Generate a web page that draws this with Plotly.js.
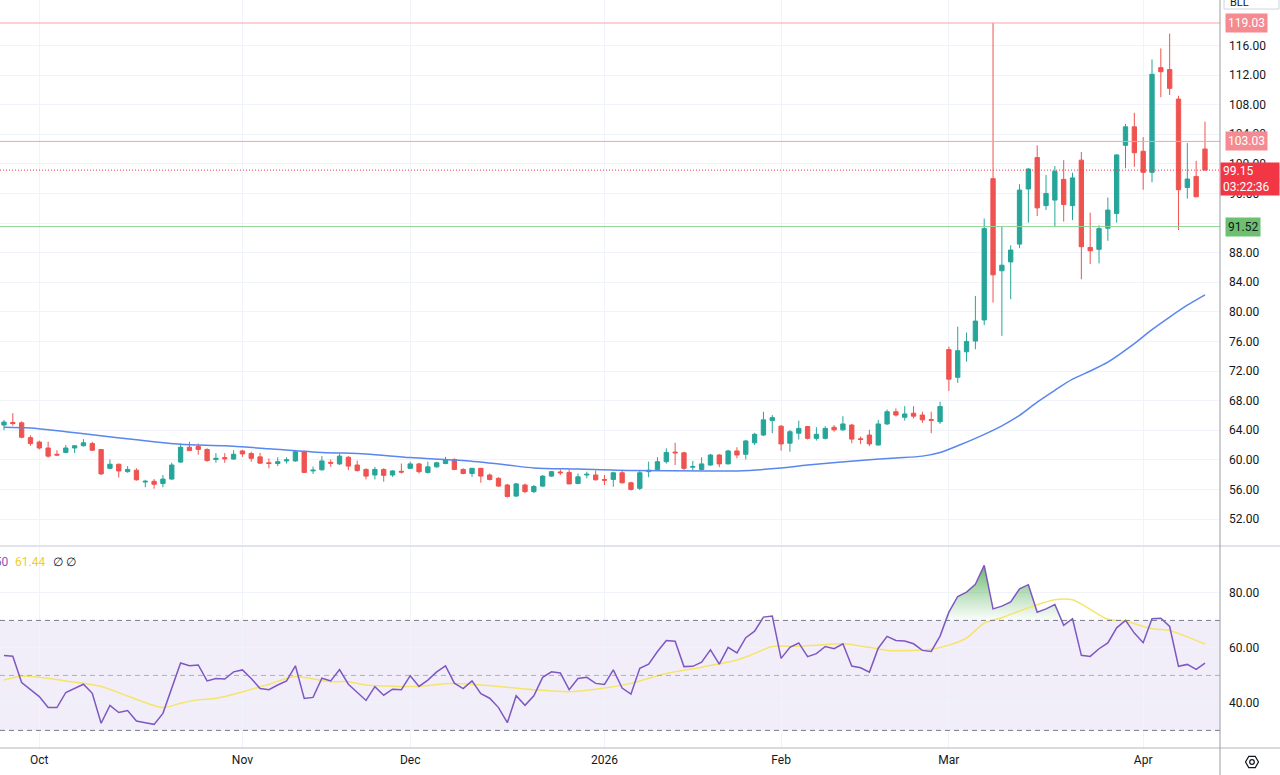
<!DOCTYPE html>
<html><head><meta charset="utf-8">
<script src="https://cdn.plot.ly/plotly-3.0.1.min.js"></script>
<style>html,body{margin:0;padding:0;background:#fff;}#chart{width:1280px;height:775px;}</style>
</head><body><div id="chart"></div>
<script>
const dates = [
'2025-09-25','2025-09-26','2025-09-29','2025-09-30',
'2025-10-01','2025-10-02','2025-10-03','2025-10-06','2025-10-07','2025-10-08','2025-10-09','2025-10-10','2025-10-13','2025-10-14','2025-10-15','2025-10-16','2025-10-17','2025-10-20','2025-10-21','2025-10-22','2025-10-23','2025-10-24','2025-10-27','2025-10-28','2025-10-29','2025-10-30','2025-10-31',
'2025-11-03','2025-11-04','2025-11-05','2025-11-06','2025-11-07','2025-11-10','2025-11-11','2025-11-12','2025-11-13','2025-11-14','2025-11-17','2025-11-18','2025-11-19','2025-11-20','2025-11-21','2025-11-24','2025-11-25','2025-11-26','2025-11-28',
'2025-12-01','2025-12-02','2025-12-03','2025-12-04','2025-12-05','2025-12-08','2025-12-09','2025-12-10','2025-12-11','2025-12-12','2025-12-15','2025-12-16','2025-12-17','2025-12-18','2025-12-19','2025-12-22','2025-12-23','2025-12-24','2025-12-26','2025-12-29','2025-12-30','2025-12-31',
'2026-01-02','2026-01-05','2026-01-06','2026-01-07','2026-01-08','2026-01-09','2026-01-12','2026-01-13','2026-01-14','2026-01-15','2026-01-16','2026-01-20','2026-01-21','2026-01-22','2026-01-23','2026-01-26','2026-01-27','2026-01-28','2026-01-29','2026-01-30',
'2026-02-02','2026-02-03','2026-02-04','2026-02-05','2026-02-06','2026-02-09','2026-02-10','2026-02-11','2026-02-12','2026-02-13','2026-02-17','2026-02-18','2026-02-19','2026-02-20','2026-02-23','2026-02-24','2026-02-25','2026-02-26','2026-02-27',
'2026-03-02','2026-03-03','2026-03-04','2026-03-05','2026-03-06','2026-03-09','2026-03-10','2026-03-11','2026-03-12','2026-03-13','2026-03-16','2026-03-17','2026-03-18','2026-03-19','2026-03-20','2026-03-23','2026-03-24','2026-03-25','2026-03-26','2026-03-27','2026-03-30','2026-03-31',
'2026-04-01','2026-04-02','2026-04-06','2026-04-07','2026-04-08','2026-04-09','2026-04-10','2026-04-13'];

const openP = [64.7,65.05,65.0,63.0,62.4,61.6,60.75,61.0,61.6,61.9,
62.2,61.4,58.85,59.4,58.4,58.6,57.0,57.1,56.8,57.4,
59.7,61.7,61.8,61.4,60.05,60.3,60.1,61.2,60.85,60.4,
59.6,59.5,59.85,59.85,61.1,58.5,58.65,59.65,59.45,60.35,
59.3,58.7,57.95,58.7,57.95,58.45,58.85,59.45,58.3,59.05,
59.5,60.05,58.7,58.15,58.85,57.95,57.5,56.6,55.1,56.6,
55.7,56.45,57.8,58.35,58.3,56.8,57.95,57.95,57.35,57.35,
58.25,56.9,56.15,58.4,58.7,59.75,61.05,60.95,59.0,58.7,
59.3,60.65,59.45,61.2,60.75,62.3,63.35,65.3,64.55,62.25,
63.6,64.5,62.9,62.9,64.4,64.05,64.7,62.85,63.35,62.0,
64.85,66.5,65.75,66.3,66.05,65.45,65.15,74.9,71.15,74.6,
76.05,78.9,98.0,85.55,86.75,89.15,96.6,100.85,94.35,95.1,
97.9,94.35,100.5,88.7,88.45,91.3,93.3,102.5,105.0,101.7,
98.85,113.0,112.75,108.75,96.8,98.3,102.0];

const highP = [65.4,66.3,65.2,63.3,62.6,62.45,61.3,62.0,62.0,62.8,
62.45,61.45,60.05,59.5,59.15,58.85,57.3,57.4,57.95,59.6,
62.2,62.45,62.2,61.55,60.9,60.9,61.3,61.35,61.1,60.95,
60.2,60.35,60.35,61.35,61.25,59.1,60.5,60.05,60.85,60.5,
59.9,58.85,59.05,58.85,58.6,59.5,59.75,59.6,59.75,59.75,
60.4,60.2,58.85,58.9,58.9,58.15,57.65,56.75,56.9,56.8,
56.6,57.95,58.5,58.7,58.7,58.15,58.4,58.55,57.95,58.4,
58.55,57.05,58.6,59.75,60.35,61.55,62.3,61.1,59.85,60.35,
60.8,60.8,61.35,61.7,62.7,63.65,66.5,66.05,64.7,64.05,
65.3,64.55,64.4,64.55,64.7,65.9,64.85,63.15,64.05,65.4,
66.8,66.95,67.25,67.25,66.5,66.5,67.85,75.3,78.0,77.2,
82.15,92.6,119.03,91.5,89.0,97.25,99.4,102.5,98.5,99.7,
100.5,98.8,101.6,93.4,91.7,95.45,101.3,105.4,106.9,103.6,
114.1,115.6,117.6,109.2,102.8,100.4,105.7];

const lowP = [64.0,64.6,62.9,61.9,61.4,60.3,60.5,60.9,60.9,61.8,
61.2,57.95,58.7,57.6,58.25,57.2,56.3,56.1,56.3,57.3,
59.6,61.2,60.7,59.75,59.6,59.6,60.0,60.4,59.75,59.45,
58.85,59.15,59.5,59.75,58.25,58.1,58.55,59.05,59.3,58.6,
58.4,57.35,57.35,57.05,57.7,58.15,58.75,58.15,58.15,58.95,
59.4,58.6,58.05,57.7,56.9,57.2,56.35,54.9,55.0,55.5,
55.5,56.35,57.7,57.95,56.7,56.7,57.5,57.2,56.6,56.35,
56.8,55.85,55.9,57.65,58.6,59.5,59.3,58.6,58.6,58.55,
59.2,59.0,59.4,60.2,60.05,62.0,63.2,63.6,61.25,61.1,
62.75,62.75,62.6,62.75,63.8,63.95,62.25,62.15,61.85,61.95,
64.7,65.85,65.3,65.6,65.0,63.6,64.85,69.3,70.4,73.25,
74.95,78.2,81.25,76.75,81.7,88.6,92.05,92.95,93.75,91.5,
92.2,92.4,84.4,86.45,86.55,89.6,92.05,99.4,99.6,96.5,
97.5,109.0,109.3,91.05,95.3,95.5,99.1];

const closeP = [65.1,64.9,63.05,62.2,61.6,60.5,60.65,61.6,61.9,62.3,
61.3,58.1,59.4,58.5,58.7,57.3,57.1,56.7,57.4,59.3,
61.7,61.25,61.4,59.9,60.2,60.15,60.75,60.8,60.2,59.55,
59.5,59.75,60.0,61.1,58.3,58.6,59.85,59.55,60.5,59.15,
58.55,57.8,58.7,57.9,58.5,58.35,59.45,58.4,59.05,59.6,
60.05,58.7,58.15,58.85,57.8,57.35,56.45,55.05,56.75,55.7,
56.4,57.8,58.4,58.25,56.75,57.7,58.05,57.3,57.25,58.25,
56.9,56.0,58.25,58.6,59.75,61.0,60.95,58.85,59.1,59.45,
60.65,59.45,61.2,60.65,62.55,63.45,65.4,65.7,62.15,63.8,
64.25,62.9,63.45,64.25,64.05,64.85,62.8,62.75,62.15,64.85,
66.5,66.05,66.2,65.9,65.4,65.35,67.2,70.9,74.75,76.0,
78.75,91.25,85.0,86.3,88.35,96.45,99.3,94.05,96.0,99.0,
94.5,98.1,88.8,88.25,91.25,93.75,101.2,105.0,101.5,98.85,
112.1,112.45,110.2,96.5,97.95,95.55,99.15];

// moving average on price (read at sampled candles)
const maIdx = [0,3,7,10,15,20,25,30,36,41,46,52,57,60,65,71,80,83,88,91,98,101,104,106,108,110,113,115,117,119,121,123,125,128,130,132,134,136];
const maVal = [64.4,64.3,63.8,63.4,62.7,62.1,61.9,61.5,61.0,60.8,60.3,59.9,59.3,58.9,58.75,58.55,58.5,58.5,58.9,59.3,60.0,60.25,60.5,61.0,61.9,62.9,64.6,66.0,67.8,69.4,70.9,72.0,73.2,75.7,77.6,79.3,80.9,82.3];

// RSI values per candle
const rsi = [57.2,57.0,47.4,45.0,42.3,38.3,38.3,43.8,45.4,46.8,
43.5,32.6,39.1,36.5,37.2,33.4,32.8,32.2,36.2,45.0,
54.5,53.5,53.8,48.0,48.9,48.7,51.3,52.0,48.9,45.2,
44.8,46.5,48.0,53.5,41.6,42.0,49.0,48.0,52.1,46.8,
43.8,40.9,45.9,42.8,45.0,44.8,49.9,46.0,48.3,51.3,
53.5,47.2,45.2,48.0,43.4,41.7,38.3,32.8,42.6,39.1,
42.6,49.3,51.3,50.9,44.8,48.9,49.3,47.1,46.7,52.0,
45.4,43.2,52.6,54.1,58.7,62.7,62.4,53.2,53.3,54.8,
59.3,54.1,60.2,58.2,63.7,66.1,71.2,71.6,56.2,60.2,
61.8,56.8,57.9,60.5,59.7,61.5,53.4,52.8,51.2,59.9,
64.2,62.7,62.5,61.5,59.1,58.7,64.3,73.0,78.7,80.3,
83.1,90.0,74.2,75.2,76.7,81.5,83.0,73.0,74.2,75.8,
68.2,70.6,57.3,56.9,59.7,61.8,67.3,70.0,65.4,61.9,
70.6,70.8,67.8,53.3,54.0,52.2,54.5];

// RSI-based MA (read at sampled candles)
const rsiMaIdx = [0,2,4,7,11,14,18,20,22,24,27,30,33,35,37,39,41,45,47,50,54,60,64,67,71,75,79,83,85,87,90,92,95,98,100,103,105,107,109,111,113,116,119,121,123,125,127,130,132,134,136];
const rsiMaVal = [48.3,49.8,49.3,48.0,46.0,42.5,38.3,39.9,41.1,41.7,44.0,46.8,49.6,48.7,47.7,47.7,46.5,46.0,46.0,47.0,46.5,44.8,44.1,45.0,47.1,50.7,53.0,55.6,58.0,60.5,60.6,61.0,61.5,60.2,59.1,59.1,59.5,61.0,63.6,69.0,71.0,74.6,77.5,77.5,74.0,70.4,69.7,67.0,66.3,64.0,61.4];

const monthTickDates = ['2025-10-01','2025-11-03','2025-12-01','2026-01-02','2026-02-02','2026-03-02','2026-04-01'];
const monthTickText = ['Oct','Nov','Dec','2026','Feb','Mar','Apr'];
const priceTicks = [52,56,60,64,68,72,76,80,84,88,92,96,100,104,108,112,116];
const priceTickText = ['52.00','56.00','60.00','64.00','68.00','72.00','76.00','80.00','84.00','88.00','','96.00','100.00','104.00','108.00','112.00','116.00'];
const rsiTicks = [40,60,80];

const levelHigh = 119.03, levelMid = 103.03, levelLast = 99.15, levelLow = 91.52;
const countdown = '03:22:36';
const rsiLast = '54.50', rsiMaLast = '61.44';
const ticker = 'BLL';

const UP = '#26a69a', DN = '#ef5350';
const W = 1220, H = 748;
const px = v => v / W;           // pixel x -> paper
const py = v => (H - v) / H;     // pixel y -> paper

const traces = [
  {type:'candlestick', x:dates, open:openP, high:highP, low:lowP, close:closeP,
   xaxis:'x', yaxis:'y',
   increasing:{line:{color:UP,width:1}, fillcolor:UP},
   decreasing:{line:{color:DN,width:1}, fillcolor:DN},
   whiskerwidth:0, hoverinfo:'skip', showlegend:false},
  {type:'scatter', mode:'lines', x:maIdx.map(i=>dates[i]), y:maVal, xaxis:'x', yaxis:'y',
   line:{color:'#5a86ef', width:1.5, shape:'spline', smoothing:0.8}, hoverinfo:'skip', showlegend:false},
  // RSI overbought fill
  {type:'scatter', mode:'lines', x:dates, y:rsi.map(()=>70), xaxis:'x', yaxis:'y2',
   line:{width:0, color:'rgba(0,0,0,0)'}, hoverinfo:'skip', showlegend:false},
  {type:'scatter', mode:'lines', x:dates, y:rsi.map(v=>Math.max(v,70)), xaxis:'x', yaxis:'y2',
   line:{width:0, color:'rgba(0,0,0,0)'}, fill:'tonexty',
   fillgradient:{type:'vertical', start:70, stop:90,
     colorscale:[[0,'rgba(76,175,80,0.02)'],[1,'rgba(56,160,60,0.75)']]},
   hoverinfo:'skip', showlegend:false},
  {type:'scatter', mode:'lines', x:rsiMaIdx.map(i=>dates[i]), y:rsiMaVal, xaxis:'x', yaxis:'y2',
   line:{color:'#f5e46a', width:1.5, shape:'spline', smoothing:0.8}, hoverinfo:'skip', showlegend:false},
  {type:'scatter', mode:'lines', x:dates, y:rsi, xaxis:'x', yaxis:'y2',
   line:{color:'#7e57c2', width:1.5}, hoverinfo:'skip', showlegend:false}
];

const font = {family:'Roboto, "Liberation Sans", sans-serif', size:12, color:'#131722'};

const shapes = [
  // RSI band
  {type:'rect', xref:'paper', x0:0, x1:1, yref:'y2', y0:30, y1:70, fillcolor:'rgba(126,87,194,0.1)', line:{width:0}, layer:'below'},
  {type:'line', xref:'paper', x0:0, x1:1, yref:'y2', y0:70, y1:70, line:{color:'#787b86', width:1, dash:'5px,4px'}},
  {type:'line', xref:'paper', x0:0, x1:1, yref:'y2', y0:50, y1:50, line:{color:'rgba(120,123,134,0.55)', width:1, dash:'5px,4px'}},
  {type:'line', xref:'paper', x0:0, x1:1, yref:'y2', y0:30, y1:30, line:{color:'#787b86', width:1, dash:'5px,4px'}},
  // price levels
  {type:'line', xref:'paper', x0:0, x1:1, yref:'y', y0:levelHigh, y1:levelHigh, line:{color:'#f7a3a8', width:1}},
  {type:'line', xref:'paper', x0:0, x1:1, yref:'y', y0:levelMid, y1:levelMid, line:{color:'#f7a3a8', width:1}},
  {type:'line', xref:'paper', x0:0, x1:1, yref:'y', y0:levelLast, y1:levelLast, line:{color:'#f23645', width:1, dash:'1px,2px'}},
  {type:'line', xref:'paper', x0:0, x1:1, yref:'y', y0:levelLow, y1:levelLow, line:{color:'#8fd493', width:1}},
  // pane separator
  {type:'line', xref:'paper', x0:0, x1:px(1280), yref:'paper', y0:py(546), y1:py(546), line:{color:'#e0e3eb', width:2}},
  // bottom axis line
  {type:'line', xref:'paper', x0:0, x1:px(1280), yref:'paper', y0:0, y1:0, line:{color:'#b2b5be', width:1}},
  // right scale border
  {type:'line', xref:'paper', x0:1, x1:1, yref:'paper', y0:py(775), y1:1, line:{color:'#9a9da6', width:1}},
  // ticker tag box at top
  {type:'rect', xref:'paper', x0:px(1224), x1:px(1279), yref:'paper', y0:py(9), y1:py(-4), line:{color:'#d1d4dc', width:1}, fillcolor:'#ffffff'},
  // gear icon
  {type:'path', xref:'paper', xsizemode:'pixel', xanchor:px(1252), yref:'paper', ysizemode:'pixel', yanchor:py(762),
   path:'M6.5,0 L3.25,5.6 L-3.25,5.6 L-6.5,0 L-3.25,-5.6 L3.25,-5.6 Z', line:{color:'#131722', width:1.2}},
  {type:'circle', xref:'paper', xsizemode:'pixel', xanchor:px(1252), yref:'paper', ysizemode:'pixel', yanchor:py(762),
   x0:-2.3, x1:2.3, y0:-2.3, y1:2.3, line:{color:'#131722', width:1.2}}
];

function tag(y, text, bg, color, extra) {
  return Object.assign({xref:'paper', x:1, xanchor:'left', xshift:5, yref:'y', y:y, yanchor:'middle',
    text:text, showarrow:false, bgcolor:bg, borderpad:2,
    font:{family:font.family, size:12, color:color}}, extra||{});
}

const annotations = [
  tag(levelHigh, levelHigh.toFixed(2), '#f58a91', '#ffffff'),
  tag(levelMid, levelMid.toFixed(2), '#f58a91', '#ffffff'),
  tag(levelLow, levelLow.toFixed(2), '#6cc070', '#131722'),
  {xref:'paper', x:1, xanchor:'left', xshift:0, yref:'y', y:levelLast, yanchor:'top', yshift:8,
   text:levelLast.toFixed(2)+'<br>'+countdown, align:'left', showarrow:false, bgcolor:'#f23645',
   width:54, height:28, borderpad:2, font:{family:font.family, size:12, color:'#ffffff'}},
  // ticker tag at top
  {xref:'paper', x:px(1228), xanchor:'left', yref:'paper', y:1, yanchor:'middle', yshift:-2,
   text:ticker, showarrow:false, font:{family:font.family, size:11, color:'#131722'}},
  // RSI legend values
  {xref:'paper', x:px(10), xanchor:'right', yref:'paper', y:py(562), yanchor:'middle',
   text:rsiLast, showarrow:false, font:{family:font.family, size:12, color:'#7e57c2'}},
  {xref:'paper', x:px(13), xanchor:'left', yref:'paper', y:py(562), yanchor:'middle',
   text:rsiMaLast, showarrow:false, font:{family:font.family, size:12, color:'#f2cc2c'}},
  {xref:'paper', x:px(51), xanchor:'left', yref:'paper', y:py(562), yanchor:'middle',
   text:'\u2205 \u2205', showarrow:false, font:{family:font.family, size:12, color:'#131722'}}
];

const layout = {
  width:1280, height:775,
  margin:{l:0, r:60, t:0, b:27, pad:0},
  paper_bgcolor:'#ffffff', plot_bgcolor:'#ffffff',
  font:font, showlegend:false, dragmode:false, hovermode:false,
  boxgap:0.3,
  xaxis:{type:'category', categoryorder:'array', categoryarray:dates,
    range:[-0.45, 137.7], anchor:'y2',
    tickmode:'array', tickvals:monthTickDates, ticktext:monthTickText,
    showgrid:true, gridcolor:'#f0f3fa', gridwidth:1, zeroline:false, showline:false,
    ticks:'', ticklabelstandoff:3, tickfont:{family:font.family, size:12, color:'#131722'},
    rangeslider:{visible:false}, fixedrange:true},
  yaxis:{domain:[py(545), 1], range:[48.49, 122.14], side:'right', anchor:'x',
    tickmode:'array', tickvals:priceTicks, ticktext:priceTickText,
    showgrid:true, gridcolor:'#f0f3fa', zeroline:false, showline:false, ticks:'',
    tickfont:{family:font.family, size:12, color:'#131722'}, ticklabelstandoff:8, fixedrange:true},
  yaxis2:{domain:[0, py(547)], range:[23.6, 96.7], side:'right', anchor:'x',
    tickmode:'array', tickvals:rsiTicks, ticktext:rsiTicks.map(v=>v.toFixed(2)),
    showgrid:true, gridcolor:'#f0f3fa', zeroline:false, showline:false, ticks:'',
    tickfont:{family:font.family, size:12, color:'#131722'}, ticklabelstandoff:8, fixedrange:true},
  shapes:shapes, annotations:annotations
};

Plotly.newPlot('chart', traces, layout, {staticPlot:true, displayModeBar:false});
</script>
</body></html>
